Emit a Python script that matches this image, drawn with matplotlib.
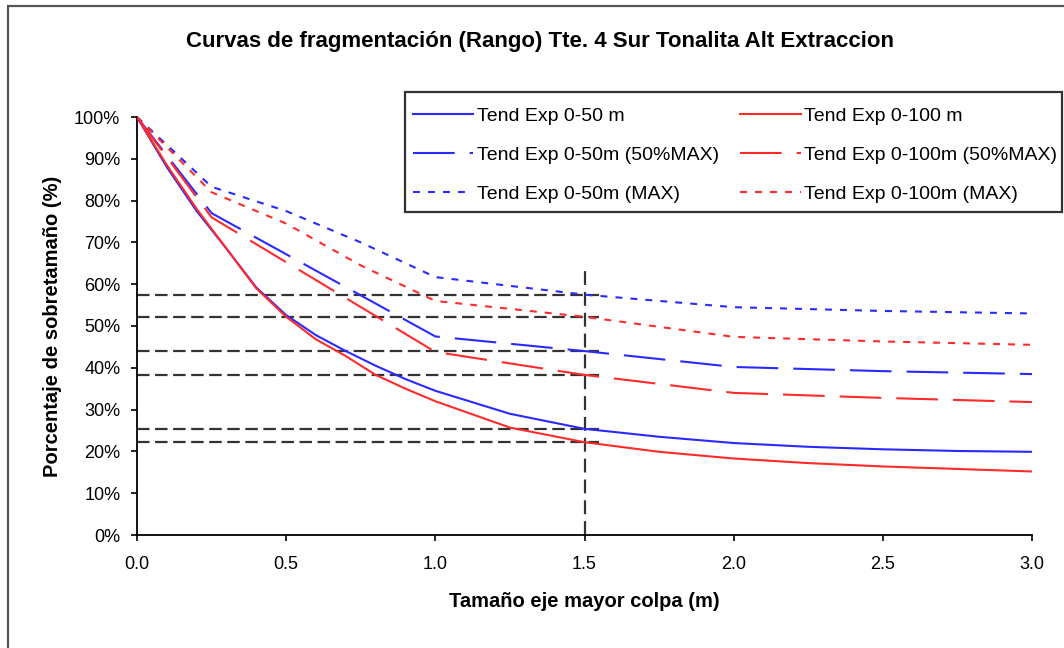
import matplotlib
matplotlib.use("Agg")
import matplotlib.pyplot as plt
from matplotlib.patches import Rectangle
from matplotlib.ticker import FuncFormatter, MultipleLocator

plt.rcParams["font.family"] = ["Liberation Sans", "DejaVu Sans"]
plt.rcParams["lines.scale_dashes"] = False

# Exponential trend fits (sobretamaño vs. colpa size)
x_fit = [0, 0.1, 0.2, 0.3, 0.4, 0.5, 0.6, 0.7, 0.8, 0.9, 1.0, 1.25, 1.5, 1.75, 2.0, 2.25, 2.5, 2.75, 3.0]
tend_50 = [100, 88, 77.5, 68.5, 59.2, 52.6, 47.8, 44, 40.5, 37.3, 34.5, 29, 25.4, 23.5, 22, 21.1, 20.5, 20.1, 19.9]
tend_100 = [100, 88.5, 78, 68.5, 59, 52.2, 46.8, 42.8, 38.3, 35, 32, 25.7, 22.2, 19.9, 18.3, 17.2, 16.4, 15.8, 15.2]

# 50% of maximum
x_half = [0, 0.25, 1.0, 1.5, 2.0, 2.5, 3.0]
half_50 = [100, 77, 47.5, 44, 40.2, 39.2, 38.5]
half_100 = [100, 76, 43.8, 38.3, 34, 32.8, 31.8]

# Maximum
x_max = [0, 0.25, 0.5, 0.75, 1.0, 1.5, 2.0, 2.5, 3.0]
max_50 = [100, 83.3, 77.5, 70, 61.7, 57.5, 54.5, 53.6, 53]
max_100 = [100, 82, 74.5, 64.5, 56, 52.2, 47.4, 46.3, 45.5]

# Reading guides at 1.5 m
ref_x = 1.5
ref_x_end = 1.55
ref_levels = [57.5, 52.2, 44, 38.3, 25.4, 22.2]
ref_top = 63.5

labels = ["Tend Exp 0-50 m", "Tend Exp 0-100 m",
          "Tend Exp 0-50m (50%MAX)", "Tend Exp 0-100m (50%MAX)",
          "Tend Exp 0-50m (MAX)", "Tend Exp 0-100m (MAX)"]

BLUE = "#2a2aff"
RED = "#ff2a2a"
LONG = (0, (30, 10.8))
SHORT = (0, (5, 5.8))

W, H = 1064, 648
fig = plt.figure(figsize=(W / 100, H / 100), dpi=100)

# chart-area border (left and top edges visible)
fig.patches.append(Rectangle((8 / W, -0.1), 1.2, 1 - 6 / H + 0.1,
                             transform=fig.transFigure, fill=False,
                             edgecolor="#555555", linewidth=1.6, zorder=0))

ax = fig.add_axes([137 / W, 1 - 535 / H, (1032 - 137) / W, (535 - 117) / H])

for y in ref_levels:
    ax.plot([0, ref_x_end], [y, y], color="#333333", lw=1.6, ls=(0, (9, 4)), zorder=2)
ax.plot([ref_x, ref_x], [0, ref_top], color="#333333", lw=1.6, ls=(0, (10, 5)), zorder=2)

h1, = ax.plot(x_fit, tend_50, color=BLUE, lw=1.5, zorder=3)
h2, = ax.plot(x_fit, tend_100, color=RED, lw=1.5, zorder=3)
h3, = ax.plot(x_half, half_50, color=BLUE, lw=1.5, ls=LONG, zorder=3)
h4, = ax.plot(x_half, half_100, color=RED, lw=1.5, ls=LONG, zorder=3)
h5, = ax.plot(x_max, max_50, color=BLUE, lw=1.5, ls=SHORT, zorder=3)
h6, = ax.plot(x_max, max_100, color=RED, lw=1.5, ls=SHORT, zorder=3)

ax.set_xlim(0, 3)
ax.set_ylim(0, 100)
ax.xaxis.set_major_locator(MultipleLocator(0.5))
ax.yaxis.set_major_locator(MultipleLocator(10))
ax.xaxis.set_major_formatter(FuncFormatter(lambda v, p: f"{v:.1f}"))
ax.yaxis.set_major_formatter(FuncFormatter(lambda v, p: f"{v:.0f}%"))
for side in ("top", "right"):
    ax.spines[side].set_visible(False)
for side in ("left", "bottom"):
    ax.spines[side].set_linewidth(1.3)
ax.tick_params(axis="both", labelsize=13, length=4, width=1.2, direction="out")
ax.tick_params(axis="x", pad=11)
ax.tick_params(axis="y", pad=8)

ax.set_xlabel("Tamaño eje mayor colpa (m)", fontsize=14.5, fontweight="bold", labelpad=14)
ax.set_ylabel("Porcentaje de sobretamaño (%)", fontsize=14.5, fontweight="bold", labelpad=9)
fig.text(540 / W, 1 - 42 / H,
         "Curvas de fragmentación (Rango) Tte. 4 Sur Tonalita Alt Extraccion",
         ha="center", va="center", fontsize=16, fontweight="bold")

# legend frame drawn separately, entries placed inside it
fig.patches.append(Rectangle((405 / W, 1 - 212 / H), (1062 - 405) / W, (212 - 92) / H,
                             transform=fig.transFigure, fill=True, facecolor="white",
                             edgecolor="#333333", linewidth=1.6, zorder=5))
leg = fig.legend([h1, h3, h5, h2, h4, h6],
                 [labels[0], labels[2], labels[4], labels[1], labels[3], labels[5]],
                 ncol=2, loc="upper left", bbox_to_anchor=(413 / W, 1 - 107 / H),
                 bbox_transform=fig.transFigure, borderaxespad=0, borderpad=0,
                 fontsize=14, handlelength=3.1, handletextpad=0.2, columnspacing=1.08,
                 labelspacing=1.1, frameon=False)
leg.set_zorder(6)

fig.savefig("out.png", dpi=100, facecolor="white")
